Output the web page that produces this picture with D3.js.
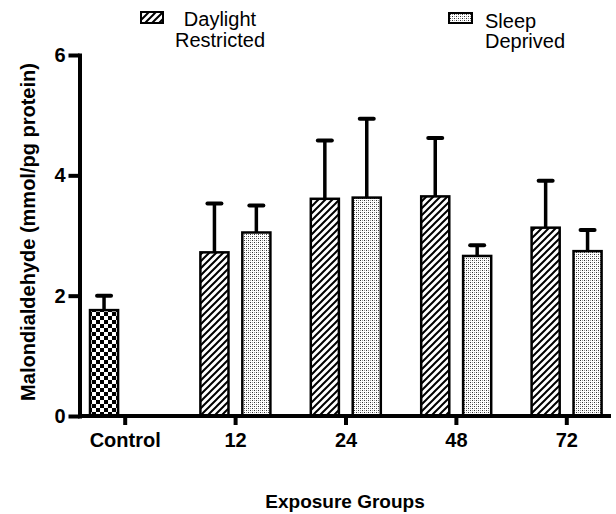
<!DOCTYPE html>
<html>
<head>
<meta charset="utf-8">
<script src="https://cdn.jsdelivr.net/npm/d3@7"></script>
<style>
  html, body { margin: 0; padding: 0; background: #fff; }
  svg { display: block; }
  text { font-family: "Liberation Sans", Arial, Helvetica, sans-serif; }
</style>
</head>
<body>
<svg id="chart" width="616" height="514"></svg>
<script>
// ---- data ----
const groups = ["Control", "12", "24", "48", "72"];
const seriesNames = ["Daylight Restricted", "Sleep Deprived"];
const controlMean = [1.76];
const controlErr = [0.24];
const daylightMean = [null, 2.72, 3.61, 3.65, 3.13];
const daylightErr = [null, 0.81, 0.97, 0.97, 0.78];
const sleepMean = [null, 3.05, 3.63, 2.66, 2.74];
const sleepErr = [null, 0.45, 1.31, 0.18, 0.35];
const yTicks = [0, 2, 4, 6];

const svg = d3.select("#chart");

// ---- patterns ----
const defs = svg.append("defs");
const hatch = defs.append("pattern").attr("id", "hatch")
  .attr("patternUnits", "userSpaceOnUse").attr("width", 7).attr("height", 7);
hatch.append("rect").attr("width", 7).attr("height", 7).attr("fill", "#fff");
hatch.append("path").attr("d", "M-1,8 L8,-1 M-4,4 L4,-4 M3,11 L11,3")
  .attr("stroke", "#000").attr("stroke-width", 2);

const dots = defs.append("pattern").attr("id", "dots")
  .attr("patternUnits", "userSpaceOnUse").attr("width", 4).attr("height", 4);
dots.append("rect").attr("width", 4).attr("height", 4).attr("fill", "#fff");
dots.append("rect").attr("x", 0).attr("y", 0).attr("width", 1).attr("height", 1).attr("fill", "#333");
dots.append("rect").attr("x", 2).attr("y", 2).attr("width", 1).attr("height", 1).attr("fill", "#333");
dots.append("rect").attr("x", 2).attr("y", 0).attr("width", 1).attr("height", 1).attr("fill", "#999");
dots.append("rect").attr("x", 0).attr("y", 2).attr("width", 1).attr("height", 1).attr("fill", "#999");

const checker = defs.append("pattern").attr("id", "checker")
  .attr("patternUnits", "userSpaceOnUse").attr("width", 8).attr("height", 8);
checker.append("rect").attr("width", 8).attr("height", 8).attr("fill", "#fff");
checker.append("rect").attr("x", 0).attr("y", 0).attr("width", 4).attr("height", 4).attr("fill", "#000");
checker.append("rect").attr("x", 4).attr("y", 4).attr("width", 4).attr("height", 4).attr("fill", "#000");

// ---- scales ----
const x = d3.scaleBand().domain(groups).range([70, 622]).paddingInner(0).paddingOuter(0);
const xs = d3.scaleBand().domain([0, 1]).range([20, 90]).paddingInner(0.33);
const y = d3.scaleLinear().domain([0, 6]).range([416, 55]);

// ---- bars ----
const bars = [];
groups.forEach((g, i) => {
  if (i === 0) {
    bars.push({ g, slot: 0, v: controlMean[0], e: controlErr[0], fill: "url(#checker)" });
  } else {
    bars.push({ g, slot: 0, v: daylightMean[i], e: daylightErr[i], fill: "url(#hatch)" });
    bars.push({ g, slot: 1, v: sleepMean[i], e: sleepErr[i], fill: "url(#dots)" });
  }
});

const barG = svg.append("g");
// error bars (behind bars)
bars.forEach(d => {
  const cx = x(d.g) + xs(d.slot) + xs.bandwidth() / 2;
  barG.append("line").attr("x1", cx).attr("x2", cx)
    .attr("y1", y(d.v)).attr("y2", y(d.v + d.e))
    .attr("stroke", "#000").attr("stroke-width", 3.5);
  barG.append("line").attr("x1", cx - 7).attr("x2", cx + 7)
    .attr("y1", y(d.v + d.e)).attr("y2", y(d.v + d.e))
    .attr("stroke", "#000").attr("stroke-width", 4).attr("stroke-linecap", "round");
});
barG.selectAll("rect.bar").data(bars).join("rect").attr("class", "bar")
  .attr("x", d => x(d.g) + xs(d.slot))
  .attr("width", xs.bandwidth())
  .attr("y", d => y(d.v))
  .attr("height", d => y(0) - y(d.v))
  .attr("fill", d => d.fill)
  .attr("stroke", "#000").attr("stroke-width", 2.5);

// ---- axes ----
const yAxis = svg.append("g").attr("transform", "translate(79.5,0)")
  .call(d3.axisLeft(y).tickValues(yTicks).tickFormat(d3.format("d"))
    .tickSize(11).tickSizeOuter(0).tickPadding(3));
yAxis.select(".domain").attr("stroke-width", 4).attr("stroke-linecap", "square");
yAxis.selectAll(".tick line").attr("stroke-width", 4);
yAxis.selectAll(".tick text").attr("font-size", 20).attr("font-weight", "bold")
  .attr("font-family", "'Liberation Sans', Arial, sans-serif").attr("fill", "#000");

const xAxis = svg.append("g").attr("transform", "translate(0,416)")
  .call(d3.axisBottom(x).tickSize(9).tickSizeOuter(0).tickPadding(8));
xAxis.select(".domain").remove();
xAxis.selectAll(".tick line").attr("stroke-width", 4);
xAxis.selectAll(".tick text").attr("font-size", 20).attr("font-weight", "bold")
  .attr("font-family", "'Liberation Sans', Arial, sans-serif").attr("fill", "#000");
svg.append("line").attr("x1", 78).attr("x2", 611).attr("y1", 416).attr("y2", 416)
  .attr("stroke", "#000").attr("stroke-width", 4);

// ---- axis titles ----
svg.append("text").attr("x", 345).attr("y", 508).attr("text-anchor", "middle")
  .attr("font-size", 19).attr("font-weight", "bold").text("Exposure Groups");
svg.append("text").attr("transform", "translate(35,232) rotate(-90)")
  .attr("text-anchor", "middle").attr("font-size", 20).attr("font-weight", "bold")
  .text("Malondialdehyde (mmol/pg protein)");

// ---- legend ----
const leg = svg.append("g");
leg.append("rect").attr("x", 141).attr("y", 12).attr("width", 22).attr("height", 11)
  .attr("fill", "url(#hatch)").attr("stroke", "#000").attr("stroke-width", 2);
leg.append("text").attr("x", 220).attr("y", 26).attr("text-anchor", "middle")
  .attr("font-size", 20).text("Daylight");
leg.append("text").attr("x", 220).attr("y", 47).attr("text-anchor", "middle")
  .attr("font-size", 20).text("Restricted");
leg.append("rect").attr("x", 449).attr("y", 13).attr("width", 23).attr("height", 10)
  .attr("fill", "url(#dots)").attr("stroke", "#000").attr("stroke-width", 2);
leg.append("text").attr("x", 485).attr("y", 28).attr("font-size", 20).text("Sleep");
leg.append("text").attr("x", 485).attr("y", 48).attr("font-size", 20).text("Deprived");
</script>
</body>
</html>
